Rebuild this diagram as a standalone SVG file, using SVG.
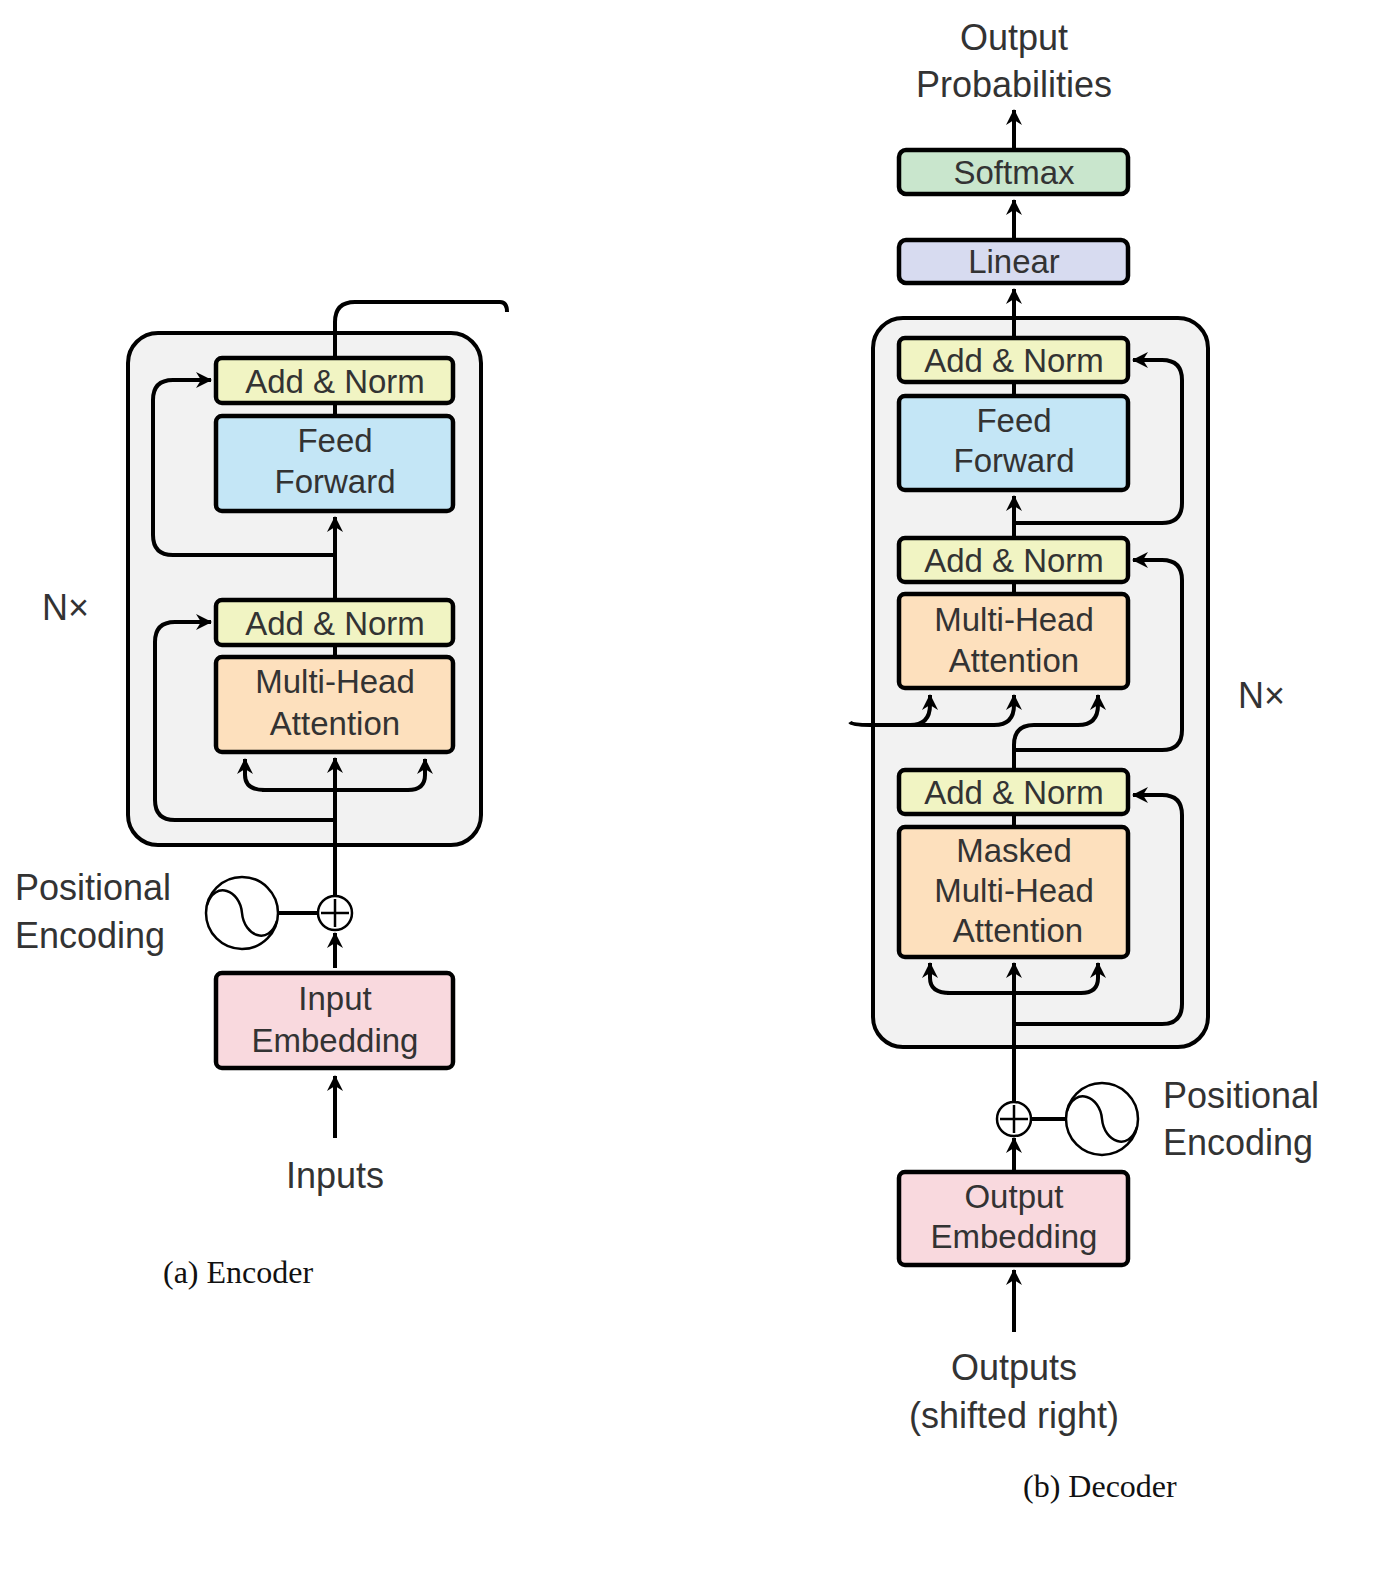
<svg xmlns="http://www.w3.org/2000/svg" width="1382" height="1572" viewBox="0 0 1382 1572">
<defs>
<marker id="ah" markerUnits="userSpaceOnUse" markerWidth="20" markerHeight="20" viewBox="-10 -10 20 20" refX="6" refY="0" orient="auto">
<path d="M7,0 L-9,-8 L-4,0 L-9,8 Z" fill="#000"/>
</marker>
<style>
.frame{fill:#f2f2f2;stroke:#000;stroke-width:4}
.box{stroke:#000;stroke-width:4.5}
.an{fill:#f1f4c3}.ff{fill:#c4e6f6}.mha{fill:#fde0bd}.emb{fill:#f9d9de}.sm{fill:#c9e6cd}.lin{fill:#d7dbf0}
.t{font-family:"Liberation Sans",Arial,sans-serif;font-size:33px;fill:#333;text-anchor:middle}
.l{font-family:"Liberation Sans",Arial,sans-serif;font-size:36px;fill:#333}
.cap{font-family:"Liberation Serif","Times New Roman",serif;font-size:32px;fill:#111}
.w{fill:none;stroke:#000;stroke-width:4}
.a{fill:none;stroke:#000;stroke-width:4;marker-end:url(#ah)}
.thin{fill:#fff;stroke:#000;stroke-width:2.5}
</style>
</defs>
<rect id="enc-frame" class="frame" x="128" y="333" width="353" height="512" rx="30"/>
<rect id="dec-frame" class="frame" x="873" y="318" width="335" height="729" rx="30"/>
<g id="connectors">
<path class="a" d="M335,1138 V1076"/>
<path class="a" d="M335,968 V933"/>
<path class="w" d="M278,913 H318"/>
<path class="a" d="M335,896 V758"/>
<path class="a" d="M262,790 H408 Q425,790 425,775 V759"/>
<path class="a" d="M265,790 Q245,790 245,775 V759"/>
<path class="a" d="M335,820 H175 Q155,820 155,800 V642 Q155,622 175,622 H211"/>
<path class="w" d="M335,645 V657"/>
<path class="a" d="M335,600 V517"/>
<path class="a" d="M335,555 H173 Q153,555 153,535 V400 Q153,380 173,380 H211"/>
<path class="w" d="M335,403 V416"/>
<path class="w" d="M335,358 V322 Q335,302 355,302 H500 Q507,302 507,312"/>
<path class="a" d="M1014,1332 V1270"/>
<path class="a" d="M1014,1170 V1138"/>
<path class="w" d="M1031,1119 H1066"/>
<path class="a" d="M1014,1102 V963"/>
<path class="a" d="M947,993 H1081 Q1098,993 1098,978 V963"/>
<path class="a" d="M950,993 Q930,993 930,978 V963"/>
<path class="a" d="M1014,1024 H1162 Q1182,1024 1182,1004 V815 Q1182,795 1162,795 H1133"/>
<path class="w" d="M1014,814 V827"/>
<path class="a" d="M1014,770 V745 Q1014,725 1034,725 H1078 Q1098,725 1098,705 V695"/>
<path class="a" d="M1014,750 H1162 Q1182,750 1182,730 V580 Q1182,560 1162,560 H1133"/>
<path class="a" d="M850,722 Q852,725 870,725 H994 Q1014,725 1014,705 V695"/>
<path class="a" d="M910,725 Q930,725 930,705 V695"/>
<path class="w" d="M1014,582 V594"/>
<path class="a" d="M1014,538 V496"/>
<path class="a" d="M1014,523 H1162 Q1182,523 1182,503 V380 Q1182,360 1162,360 H1133"/>
<path class="w" d="M1014,382 V396"/>
<path class="a" d="M1014,338 V289"/>
<path class="a" d="M1014,240 V200"/>
<path class="a" d="M1014,150 V110"/>
</g>
<g id="enc-addnorm2"><rect class="box an" x="216" y="358" width="237" height="45" rx="6"/><text class="t" x="335" y="393">Add &amp; Norm</text></g>
<g id="enc-ff"><rect class="box ff" x="216" y="416" width="237" height="95" rx="6"/><text class="t" x="335" y="452">Feed</text><text class="t" x="335" y="493">Forward</text></g>
<g id="enc-addnorm1"><rect class="box an" x="216" y="600" width="237" height="45" rx="6"/><text class="t" x="335" y="635">Add &amp; Norm</text></g>
<g id="enc-mha"><rect class="box mha" x="216" y="657" width="237" height="95" rx="6"/><text class="t" x="335" y="693">Multi-Head</text><text class="t" x="335" y="735">Attention</text></g>
<g id="enc-emb"><rect class="box emb" x="216" y="973" width="237" height="95" rx="6"/><text class="t" x="335" y="1010">Input</text><text class="t" x="335" y="1052">Embedding</text></g>
<g id="enc-plus"><circle class="thin" cx="335" cy="913" r="17"/><path class="w" style="stroke-width:2.5" d="M335,899 V927 M321,913 H349"/></g>
<g id="enc-pe"><circle class="thin" cx="242" cy="913" r="36"/><path class="w" style="stroke-width:2.5" d="M207,905 C215,880 240,890 242,913 C244,936 269,946 277,921"/></g>
<text class="l" x="42" y="620">N×</text>
<text class="l" x="15" y="900">Positional</text>
<text class="l" x="15" y="948">Encoding</text>
<text class="l" x="335" y="1188" text-anchor="middle">Inputs</text>
<text class="cap" x="163" y="1283">(a) Encoder</text>
<g id="dec-softmax"><rect class="box sm" x="899" y="150" width="229" height="44" rx="7"/><text class="t" x="1014" y="184">Softmax</text></g>
<g id="dec-linear"><rect class="box lin" x="899" y="240" width="229" height="43" rx="7"/><text class="t" x="1014" y="273">Linear</text></g>
<g id="dec-addnorm3"><rect class="box an" x="899" y="338" width="229" height="44" rx="6"/><text class="t" x="1014" y="372">Add &amp; Norm</text></g>
<g id="dec-ff"><rect class="box ff" x="899" y="396" width="229" height="94" rx="6"/><text class="t" x="1014" y="432">Feed</text><text class="t" x="1014" y="472">Forward</text></g>
<g id="dec-addnorm2"><rect class="box an" x="899" y="538" width="229" height="44" rx="6"/><text class="t" x="1014" y="572">Add &amp; Norm</text></g>
<g id="dec-mha"><rect class="box mha" x="899" y="594" width="229" height="94" rx="6"/><text class="t" x="1014" y="631">Multi-Head</text><text class="t" x="1014" y="672">Attention</text></g>
<g id="dec-addnorm1"><rect class="box an" x="899" y="770" width="229" height="44" rx="6"/><text class="t" x="1014" y="804">Add &amp; Norm</text></g>
<g id="dec-mmha"><rect class="box mha" x="899" y="827" width="229" height="130" rx="6"/><text class="t" x="1014" y="862">Masked</text><text class="t" x="1014" y="902">Multi-Head</text><text class="t" x="1018" y="942">Attention</text></g>
<g id="dec-emb"><rect class="box emb" x="899" y="1172" width="229" height="93" rx="6"/><text class="t" x="1014" y="1208">Output</text><text class="t" x="1014" y="1248">Embedding</text></g>
<g id="dec-plus"><circle class="thin" cx="1014" cy="1119" r="17"/><path class="w" style="stroke-width:2.5" d="M1014,1105 V1133 M1000,1119 H1028"/></g>
<g id="dec-pe"><circle class="thin" cx="1102" cy="1119" r="36"/><path class="w" style="stroke-width:2.5" d="M1067,1111 C1075,1086 1100,1096 1102,1119 C1104,1142 1129,1152 1137,1127"/></g>
<text class="l" x="1014" y="50" text-anchor="middle">Output</text>
<text class="l" x="1014" y="97" text-anchor="middle">Probabilities</text>
<text class="l" x="1238" y="708">N×</text>
<text class="l" x="1163" y="1108">Positional</text>
<text class="l" x="1163" y="1155">Encoding</text>
<text class="l" x="1014" y="1380" text-anchor="middle">Outputs</text>
<text class="l" x="1014" y="1428" text-anchor="middle">(shifted right)</text>
<text class="cap" x="1023" y="1497">(b) Decoder</text>
</svg>
